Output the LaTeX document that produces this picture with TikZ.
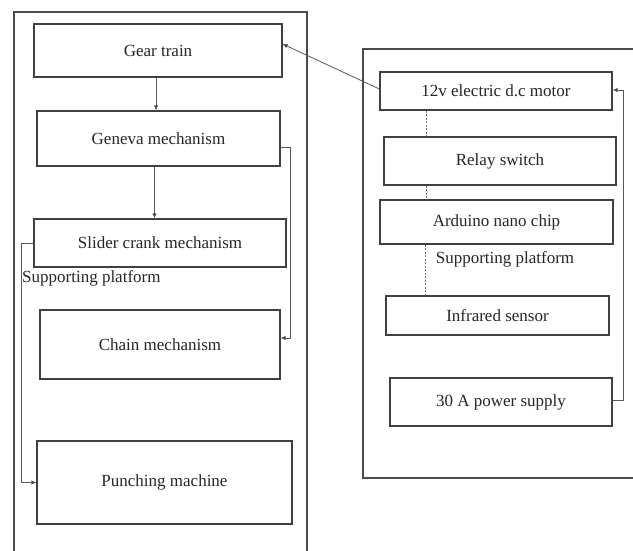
\documentclass[tikz,border=0pt]{standalone}
\usepackage{fontspec}
\setmainfont{Liberation Serif}
\usetikzlibrary{arrows.meta}
\begin{document}
\begin{tikzpicture}[x=1pt,y=-1pt,
  box/.style={draw=black!75, line width=1.2pt, text=black!85, font=\fontsize{17}{20}\selectfont, inner sep=0pt},
  frame/.style={draw=black!70, line width=1.2pt},
  conn/.style={draw=black!65, line width=0.8pt},
  arr/.style={conn, -{Latex[length=5pt,width=4.5pt,fill=black!85]}},
  dsh/.style={draw=black!55, line width=0.7pt, dash pattern=on 2pt off 1.5pt},
  lbl/.style={text=black!85, font=\fontsize{17}{20}\selectfont, inner sep=0pt}]
\useasboundingbox (0,0) rectangle (633,551);
\clip (0,0) rectangle (633,551);
\fill[white] (0,0) rectangle (633,551);
% outer frames
\draw[frame] (14,12) rectangle (307,560);
\draw[frame] (363,49) rectangle (645,478);
% left column
\node[box, minimum width=248pt, minimum height=53pt] (gear) at (158,50.5) {Gear train};
\node[box, minimum width=243pt, minimum height=55pt] (geneva) at (158.5,138.5) {Geneva mechanism};
\node[box, minimum width=252pt, minimum height=48pt] (slider) at (160,243) {Slider crank mechanism};
\node[lbl, anchor=west] (supL) at (22,278) {Supporting platform};
\node[box, minimum width=240pt, minimum height=69pt] (chain) at (160,344.5) {Chain mechanism};
\node[box, minimum width=255pt, minimum height=83pt] (punch) at (164.5,482.5) {Punching machine};
% right column
\node[box, minimum width=232pt, minimum height=38pt] (motor) at (496,91) {12v electric d.c motor};
\node[box, minimum width=232pt, minimum height=48pt] (relay) at (500,161) {Relay switch};
\node[box, minimum width=233pt, minimum height=44pt] (arduino) at (496.5,222) {Arduino nano chip};
\node[lbl] (supR) at (505,259) {Supporting platform};
\node[box, minimum width=223pt, minimum height=39pt] (ir) at (497.5,315.5) {Infrared sensor};
\node[box, minimum width=222pt, minimum height=48pt] (power) at (501,402) {30 A power supply};
% connectors
\draw[arr] ([xshift=-2pt]gear.south) -- ([xshift=-2pt]gear.south |- geneva.north);
\draw[arr] ([xshift=-4pt]geneva.south) -- ([xshift=-4pt]geneva.south |- slider.north);
\draw[arr] ([yshift=-8.5pt]geneva.east) -- ++(10,0) |- ([yshift=6.5pt]chain.east);
\draw[arr] (slider.west) -- ++(-12,0) |- (punch.west);
\draw[arr] ([yshift=2pt]motor.west) -- ([yshift=6.5pt]gear.east);
\draw[arr] ([yshift=2pt]power.east) -- ++(11,0) |- ([yshift=1pt]motor.east);
\draw[dsh] ([xshift=-70pt]motor.south) -- ([xshift=-70pt]motor.south |- relay.north);
\draw[dsh] ([xshift=-74pt]relay.south) -- ([xshift=-74pt]relay.south |- arduino.north);
\draw[dsh] ([xshift=-71.5pt]arduino.south) -- ([xshift=-71.5pt]arduino.south |- ir.north);
\end{tikzpicture}
\end{document}
